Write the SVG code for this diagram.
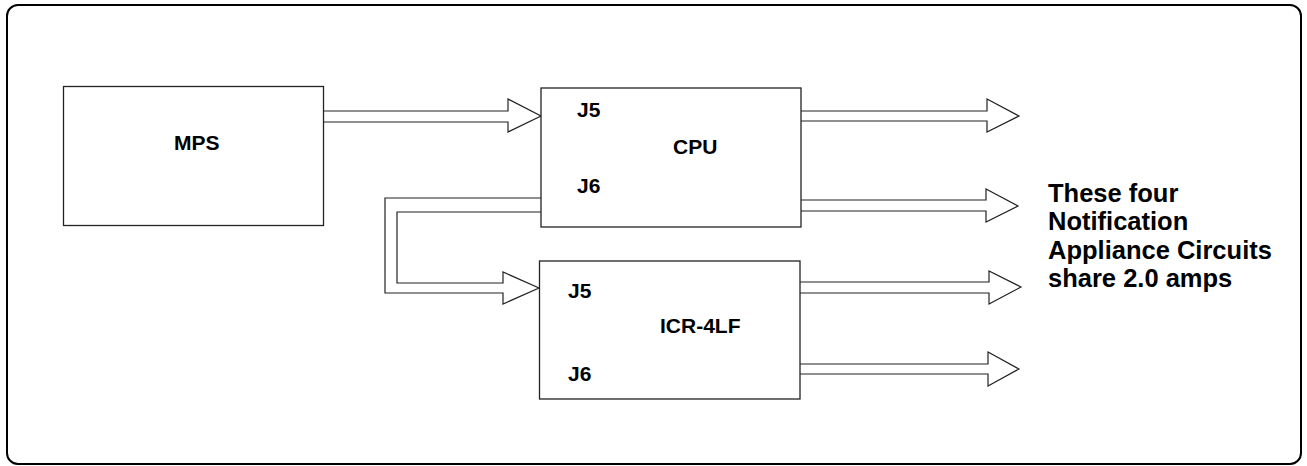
<svg xmlns="http://www.w3.org/2000/svg" width="1307" height="466" viewBox="0 0 1307 466">
<style>
.box{fill:#fff;stroke:#222;stroke-width:1.3}
.frame{fill:none;stroke:#000;stroke-width:2}
.arr{fill:#fff;stroke:#222;stroke-width:1.2;stroke-linejoin:miter}
text{font-family:"Liberation Sans",Arial,sans-serif;font-weight:bold;fill:#000}
.lbl{font-size:21px}
.note{font-size:25.5px}
</style>
<rect class="frame" x="7" y="5" width="1294" height="459" rx="11" ry="11"/>
<g id="connectors">
<path class="arr" d="M323,111 H508 V99 L541,116 L508,132 V122 H323"/>
<path class="arr" d="M801,111 H987 V99 L1019,116 L987,132 V121 H801"/>
<path class="arr" d="M801,200 H986 V189 L1018,206 L986,222 V211 H801"/>
<path class="arr" d="M800,282 H989 V271 L1021,287 L989,304 V293 H800"/>
<path class="arr" d="M800,364 H988 V352 L1019,369 L988,386 V374 H800"/>
<path class="arr" d="M541,198 H385 V293 H503 V304 L539,288 L503,272 V283 H397 V212 H541"/>
</g>
<g id="mps">
<rect class="box" x="63.5" y="86.5" width="260" height="139"/>
<text class="lbl" x="174" y="150">MPS</text>
</g>
<g id="cpu">
<rect class="box" x="541" y="88" width="260" height="139"/>
<text class="lbl" x="577" y="117">J5</text>
<text class="lbl" x="673" y="154">CPU</text>
<text class="lbl" x="577" y="193">J6</text>
</g>
<g id="icr">
<rect class="box" x="539.5" y="261" width="260.5" height="138"/>
<text class="lbl" x="568" y="298">J5</text>
<text class="lbl" x="660" y="333">ICR-4LF</text>
<text class="lbl" x="568" y="381">J6</text>
</g>
<g id="note">
<text class="note" x="1048" y="202">These four</text>
<text class="note" x="1048" y="230">Notification</text>
<text class="note" x="1048" y="259">Appliance Circuits</text>
<text class="note" x="1048" y="287">share 2.0 amps</text>
</g>
</svg>
